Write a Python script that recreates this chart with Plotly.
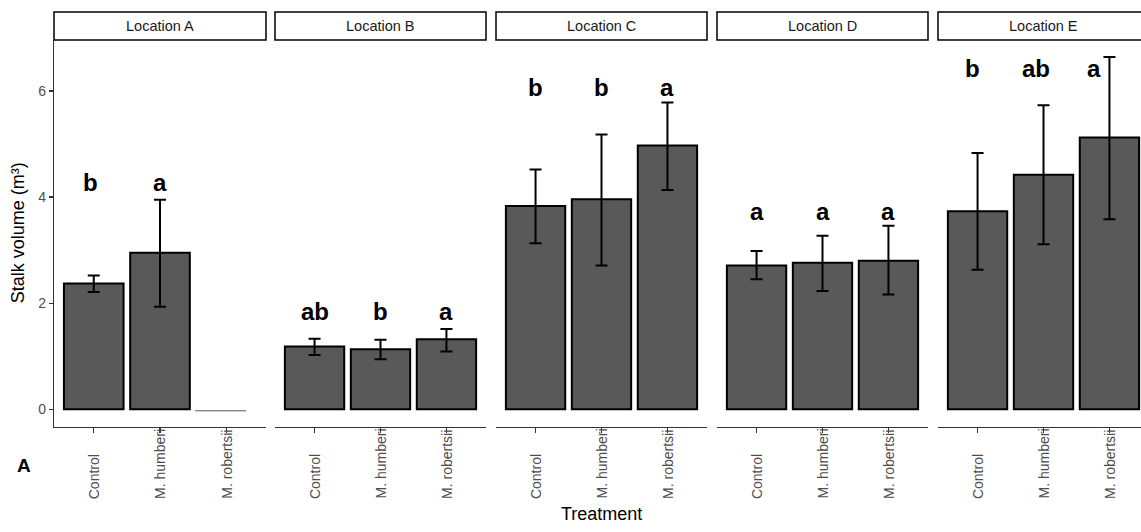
import plotly.graph_objects as go

# ---------------- data ----------------
locations = ["Location A", "Location B", "Location C", "Location D", "Location E"]
treatments = ["Control", "M. humberi", "M. robertsii"]

# mean stalk volume per location (rows) and treatment (cols); None = no data
means = [
    [2.37, 2.95, None],
    [1.18, 1.13, 1.32],
    [3.83, 3.96, 4.97],
    [2.71, 2.76, 2.80],
    [3.73, 4.42, 5.12],
]
upper = [
    [2.52, 3.95, None],
    [1.33, 1.31, 1.51],
    [4.52, 5.18, 5.78],
    [2.98, 3.27, 3.46],
    [4.83, 5.73, 6.64],
]
lower = [
    [2.21, 1.93, None],
    [1.02, 0.94, 1.09],
    [3.13, 2.71, 4.13],
    [2.45, 2.23, 2.16],
    [2.63, 3.11, 3.58],
]
letters = [
    ["b", "a", ""],
    ["ab", "b", "a"],
    ["b", "b", "a"],
    ["a", "a", "a"],
    ["b", "ab", "a"],
]
letter_y = [4.28, 1.85, 6.06, 3.72, 6.43]
letter_dx = [
    [-0.05, 0.0, 0.0],
    [0.0, 0.0, 0.0],
    [0.0, 0.0, 0.0],
    [0.0, 0.0, 0.0],
    [-0.08, -0.11, -0.23],
]
y_ticks = [0, 2, 4, 6]
y_range = [-0.33, 6.96]
missing_level = -0.03

# ---------------- layout geometry (window pixels) ----------------
W, H = 1141, 532
panel_left = [54, 275, 496, 717, 938]
panel_right = [266, 486, 707, 928, 1149]
plot_top, plot_bottom = 40, 426.7
strip_top = 12


def fx(p):
    return p / W


def fy(p):
    return 1 - p / H


fig = go.Figure()
annotations = []
shapes = []
xpos = [1, 2, 3]

for i, loc in enumerate(locations):
    xa = "x" if i == 0 else f"x{i + 1}"
    key = "xaxis" if i == 0 else f"xaxis{i + 1}"
    left, right = panel_left[i], panel_right[i]
    r1 = 3.6
    dom_right = right
    if right > W:
        r1 = 0.4 + 3.2 * (W - left) / (right - left)
        dom_right = W
    fig.update_layout(**{key: dict(
        domain=[fx(left), min(1.0, fx(dom_right))], range=[0.4, r1], anchor="y",
        showline=True, linecolor="#333333", linewidth=1.2,
        ticks="outside", ticklen=5, tickcolor="#333333", tickwidth=1.2,
        tickvals=xpos, showticklabels=False, showgrid=False, zeroline=False,
        fixedrange=True,
    )})

    xs = [x for x, m in zip(xpos, means[i]) if m is not None]
    ys = [m for m in means[i] if m is not None]
    up = [u - m for u, m in zip(upper[i], means[i]) if m is not None]
    lo = [m - l for l, m in zip(lower[i], means[i]) if m is not None]
    fig.add_trace(go.Bar(
        x=xs, y=ys, xaxis=xa, yaxis="y", width=0.9,
        marker=dict(color="#595959", line=dict(color="black", width=2)),
        error_y=dict(type="data", array=up, arrayminus=lo, color="black",
                     thickness=2, width=6),
        showlegend=False, hoverinfo="skip",
    ))
    # treatment with no data drawn as a flat line
    for x, m in zip(xpos, means[i]):
        if m is None:
            fig.add_trace(go.Scatter(
                x=[x - 0.47, x + 0.3], y=[missing_level, missing_level],
                xaxis=xa, yaxis="y", mode="lines",
                line=dict(color="#555555", width=1), showlegend=False,
                hoverinfo="skip",
            ))

    # significance letters
    for j, lt in enumerate(letters[i]):
        if lt:
            annotations.append(dict(
                x=xpos[j] + letter_dx[i][j], y=letter_y[i], xref=xa, yref="y",
                text=f"<b>{lt}</b>", showarrow=False,
                font=dict(family="Liberation Sans, Arial", size=24, color="black"),
                xanchor="center", yanchor="middle",
            ))

    # tick labels (rotated, bottom aligned)
    for j, t in enumerate(treatments):
        annotations.append(dict(
            x=xpos[j], y=fy(501), xref=xa, yref="paper", text=t,
            showarrow=False, textangle=-90, xanchor="center", yanchor="bottom",
            font=dict(family="Liberation Sans, Arial", size=14, color="#4D4D4D"),
        ))

    # strip
    shapes.append(dict(
        type="rect", xref="paper", yref="paper",
        x0=fx(left), x1=fx(right), y0=fy(plot_top), y1=fy(strip_top),
        line=dict(color="black", width=1.5), fillcolor="white", layer="above",
    ))
    annotations.append(dict(
        x=fx((left + right) / 2), y=fy((plot_top + strip_top) / 2),
        xref="paper", yref="paper", text=loc, showarrow=False,
        font=dict(family="Liberation Sans, Arial", size=14.5, color="#1A1A1A"),
        xanchor="center", yanchor="middle",
    ))

# axis titles and panel tag
annotations.append(dict(
    x=fx(18), y=fy((plot_top + plot_bottom) / 2), xref="paper", yref="paper",
    text="Stalk volume (m³)", textangle=-90, showarrow=False,
    font=dict(family="Liberation Sans, Arial", size=18, color="black"),
    xanchor="center", yanchor="middle",
))
annotations.append(dict(
    x=fx((panel_left[0] + panel_right[-1]) / 2), y=fy(514), xref="paper",
    yref="paper", text="Treatment", showarrow=False,
    font=dict(family="Liberation Sans, Arial", size=18, color="black"),
    xanchor="center", yanchor="middle",
))
annotations.append(dict(
    x=fx(24), y=fy(465), xref="paper", yref="paper", text="<b>A</b>",
    showarrow=False,
    font=dict(family="Liberation Sans, Arial", size=19, color="black"),
    xanchor="center", yanchor="middle",
))

fig.update_layout(
    width=W, height=H, margin=dict(l=0, r=0, t=0, b=0),
    paper_bgcolor="white", plot_bgcolor="white",
    yaxis=dict(
        domain=[fy(plot_bottom), fy(plot_top)], range=y_range, anchor="x",
        tickvals=y_ticks, showline=True, linecolor="#333333", linewidth=1.2,
        ticks="outside", ticklen=4, tickcolor="#333333", tickwidth=1.2,
        tickfont=dict(family="Liberation Sans, Arial", size=14, color="#4D4D4D"),
        showgrid=False, zeroline=False, fixedrange=True,
    ),
    annotations=annotations, shapes=shapes, bargap=0,
    font=dict(family="Liberation Sans, Arial"),
)

fig.write_html(
    "out.html",
    config=dict(displayModeBar=False, staticPlot=True),
    post_script="document.body.style.margin='0';document.body.style.overflow='hidden';",
)
